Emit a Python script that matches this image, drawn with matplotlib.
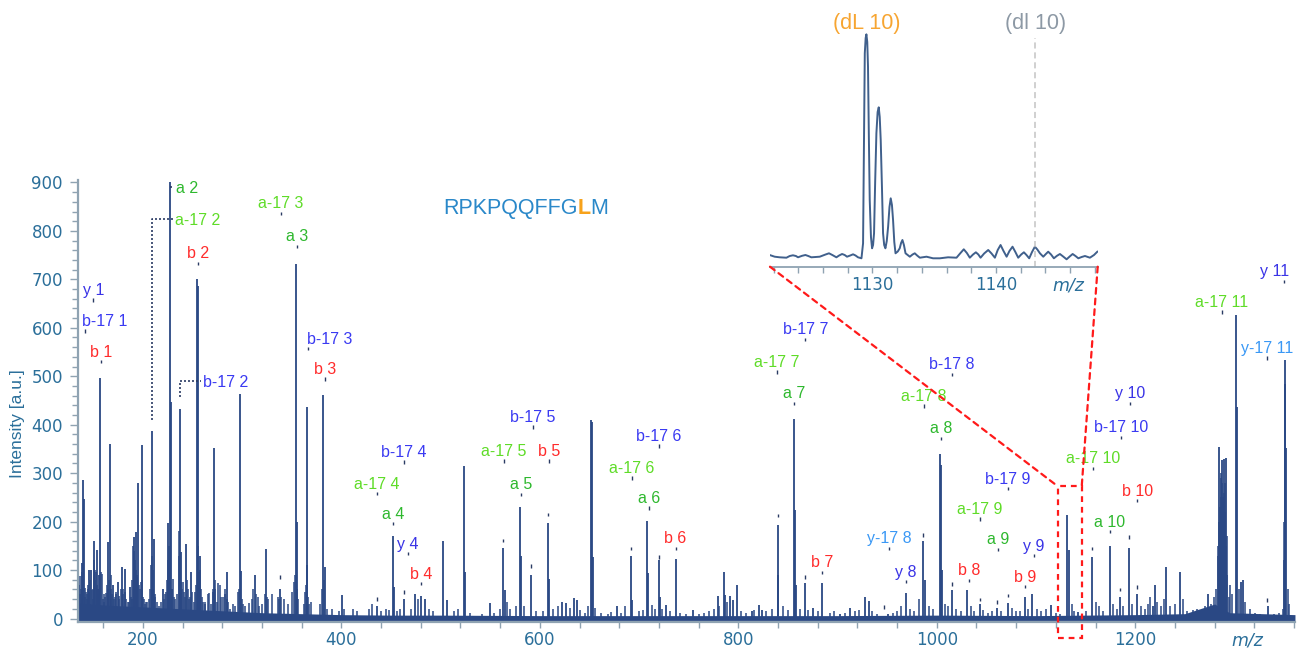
import matplotlib.pyplot as plt
from matplotlib.patches import ConnectionPatch, Rectangle

# ---- spectrum peaks (m/z, intensity a.u.) ----
peak_mz = [139.0, 139.9, 140.8, 145.6, 147.5, 150.9, 153.3, 155.7, 157.0, 164.4,
           166.8, 169.5, 174.5, 178.8, 181.5, 186.9, 191.2, 192.6, 195.0, 198.7,
           209.1, 211.4, 220.5, 225.5, 227.2, 227.9, 237.3, 238.0, 243.6, 248.4,
           254.1, 255.0, 257.4, 271.8, 284.3, 297.7, 298.7, 312.8, 323.6, 338.0,
           353.9, 354.9, 364.9, 365.6, 381.7, 383.3, 400.2, 435.5, 452.2, 453.2,
           463.3, 474.1, 479.8, 484.1, 502.0, 506.6, 523.7, 524.4, 549.6, 563.0,
           564.4, 579.9, 580.5, 590.9, 608.4, 609.1, 621.9, 625.9, 634.3, 637.0,
           651.1, 652.4, 653.1, 677.3, 691.7, 693.0, 708.1, 709.1, 719.9, 720.9,
           727.6, 736.7, 754.5, 779.7, 785.4, 786.4, 792.1, 794.8, 798.8, 813.3,
           820.7, 824.1, 839.5, 840.1, 856.2, 857.6, 858.6, 867.0, 875.4, 884.8,
           902.3, 913.0, 927.5, 931.8, 951.0, 968.8, 986.2, 987.9, 1003.0, 1004.4,
           1005.4, 1015.1, 1030.9, 1043.3, 1061.1, 1071.9, 1088.7, 1096.4, 1115.6, 1131.7,
           1133.1, 1142.5, 1156.8, 1174.3, 1185.0, 1193.7, 1202.2, 1217.9, 1219.6, 1231.4,
           1245.5, 1273.3, 1284.4, 1287.8, 1289.2, 1291.2, 1302.0, 1302.6, 1307.0, 1308.6,
           1333.8, 1350.6, 1351.3, 1352.3]
peak_int = [115, 285, 247, 100, 100, 161, 142, 89, 497, 158,
            361, 69, 75, 106, 103, 65, 169, 178, 280, 358,
            388, 165, 60, 197, 900, 446, 432, 137, 153, 95,
            700, 686, 130, 352, 96, 463, 98, 89, 144, 60,
            732, 199, 437, 110, 462, 106, 49, 25, 171, 65,
            40, 51, 46, 41, 159, 39, 314, 97, 32, 145,
            58, 231, 130, 90, 197, 82, 34, 31, 42, 38,
            410, 405, 127, 25, 130, 38, 201, 94, 120, 45,
            27, 122, 17, 46, 97, 49, 46, 38, 70, 15,
            27, 18, 194, 90, 412, 223, 69, 73, 21, 73,
            10, 21, 45, 36, 10, 53, 161, 80, 340, 316,
            100, 58, 58, 30, 22, 31, 45, 51, 27, 213,
            141, 14, 127, 149, 45, 146, 51, 25, 70, 106,
            97, 50, 353, 327, 329, 331, 627, 437, 75, 80,
            25, 534, 485, 351]

# small peaks / grass between the main ones
grass_mz = [135.5, 136.0, 136.5, 137.0, 137.5, 138.5, 141.5, 142.0, 142.5, 143.5,
            144.0, 144.4, 145.0, 146.0, 146.5, 147.0, 148.4, 149.2, 149.7, 150.3,
            151.2, 151.8, 152.2, 153.8, 154.2, 154.8, 156.0, 157.6, 158.4, 159.5,
            160.3, 161.0, 162.0, 162.5, 163.5, 165.0, 165.6, 167.5, 168.0, 168.5,
            170.8, 171.5, 172.5, 173.3, 175.5, 176.3, 177.5, 179.5, 180.3, 182.2,
            183.0, 184.5, 185.5, 187.8, 188.5, 189.2, 190.0, 190.6, 191.8, 193.0,
            193.8, 194.3, 196.0, 196.5, 197.5, 199.5, 200.3, 201.5, 202.5, 203.5,
            204.5, 206.0, 207.5, 208.3, 208.8, 209.7, 210.3, 212.0, 212.5, 214.0,
            216.5, 218.5, 221.5, 222.5, 223.2, 224.0, 225.0, 226.0, 226.5, 228.8,
            229.5, 230.5, 231.5, 232.5, 234.5, 236.0, 236.7, 238.8, 239.0, 240.5,
            241.0, 242.5, 244.3, 245.0, 246.5, 247.5, 249.5, 251.0, 252.8, 253.0,
            255.7, 256.0, 257.0, 258.5, 259.0, 260.0, 262.0, 263.0, 265.5, 266.5,
            268.5, 270.3, 271.0, 272.5, 273.0, 274.5, 275.9, 277.5, 278.5, 281.0,
            282.5, 283.0, 285.0, 286.0, 288.0, 291.0, 293.0, 296.0, 297.0, 299.5,
            300.5, 302.5, 307.0, 310.0, 311.0, 313.5, 315.5, 317.0, 320.0, 322.5,
            324.5, 326.5, 330.5, 336.0, 337.0, 339.0, 342.0, 346.0, 350.0, 352.0,
            353.0, 355.5, 356.5, 362.0, 363.5, 364.0, 366.5, 367.5, 369.5, 378.0,
            380.8, 382.5, 385.5, 391.0, 397.5, 402.5,
            412.0, 416.0, 428.0, 431.0, 440.0, 445.0, 448.0, 456.0, 459.5, 470.0,
            477.0, 488.0, 492.0, 513.0, 517.0, 530.0, 542.0, 554.0, 560.0, 567.0,
            570.0, 576.0, 584.0, 596.0, 603.0, 613.0, 618.0, 630.0, 640.0, 645.0,
            648.0, 656.0, 662.0, 669.0, 672.0, 682.0, 686.0, 700.0, 704.0, 713.0,
            716.0, 723.0, 731.0, 741.0, 747.0, 760.0, 765.0, 770.0, 775.0, 781.0,
            789.0, 803.0, 808.0, 816.0, 828.0, 834.0, 845.0, 850.0, 862.0, 870.0,
            880.0, 892.0, 896.0, 908.0, 918.0, 922.0, 935.0, 940.0, 956.0, 960.0,
            964.0, 973.0, 977.0, 982.0, 992.0, 996.0, 1008.0, 1011.0, 1019.0, 1024.0,
            1035.0, 1038.0, 1047.0, 1052.0, 1056.0, 1065.0, 1076.0, 1080.0, 1084.0, 1092.0,
            1101.0, 1105.0, 1110.0, 1120.0, 1124.0, 1136.0, 1138.0, 1150.0, 1160.0, 1163.0,
            1168.0, 1178.0, 1182.0, 1188.0, 1197.0, 1206.0, 1210.0, 1213.0, 1215.0, 1222.0,
            1226.0, 1229.0, 1235.0, 1240.0, 1248.0, 1252.0, 1258.0, 1262.0, 1266.0, 1270.0,
            1276.0, 1279.0, 1281.0, 1283.0, 1283.6, 1284.9, 1285.2, 1285.6, 1286.0, 1286.4,
            1286.8, 1287.3, 1288.0, 1288.5, 1288.9, 1289.6, 1290.0, 1290.6, 1291.6, 1292.0,
            1293.0, 1294.5, 1296.0, 1298.0, 1304.5, 1311.0, 1316.0, 1321.0, 1326.0, 1340.0,
            1345.0, 1348.5, 1349.8, 1350.2, 1353.5, 1355.0]
grass_int = [40, 70, 88, 50, 60, 95, 62, 45, 55, 40,
             50, 60, 70, 55, 30, 80, 58, 40, 60, 120,
             100, 80, 95, 70, 50, 60, 60, 95, 92, 40,
             35, 50, 45, 53, 70, 60, 80, 90, 60, 50,
             40, 45, 50, 55, 40, 46, 60, 60, 50, 55,
             40, 35, 35, 45, 40, 80, 150, 140, 120, 100,
             90, 85, 70, 60, 75, 80, 45, 40, 30, 35,
             35, 40, 60, 110, 130, 100, 60, 50, 45, 35,
             25, 35, 40, 50, 55, 80, 120, 120, 150, 60,
             60, 81, 45, 40, 50, 130, 180, 75, 60, 75,
             55, 45, 80, 60, 40, 45, 55, 35, 55, 70,
             150, 95, 100, 60, 45, 35, 30, 35, 50, 53,
             30, 55, 60, 80, 60, 35, 74, 70, 45, 45,
             60, 50, 40, 35, 20, 30, 25, 55, 60, 40,
             30, 25, 32, 40, 60, 50, 45, 25, 30, 50,
             45, 40, 50, 45, 40, 45, 40, 30, 55, 75,
             90, 60, 40, 30, 55, 70, 45, 30, 35, 30,
             60, 80, 20, 20, 15, 20,
             20, 15, 20, 30, 15, 20, 18, 15, 20, 20,
             40, 20, 15, 15, 20, 12, 10, 12, 20, 35,
             20, 25, 25, 15, 15, 20, 25, 22, 18, 12,
             25, 22, 12, 10, 14, 12, 25, 15, 18, 28,
             20, 20, 15, 12, 10, 10, 12, 15, 20, 25,
             35, 15, 12, 18, 15, 20, 25, 18, 20, 18,
             15, 12, 15, 12, 15, 18, 15, 10, 12, 15,
             25, 20, 15, 40, 25, 20, 30, 25, 20, 15,
             25, 15, 18, 12, 15, 15, 22, 15, 15, 20,
             20, 15, 20, 12, 10, 30, 15, 15, 35, 25,
             15, 30, 20, 25, 30, 25, 20, 30, 45, 35,
             25, 40, 25, 30, 40, 15, 18, 20, 15, 25,
             30, 45, 60, 130, 150, 200, 180, 230, 250, 290,
             300, 280, 240, 250, 200, 260, 220, 280, 150, 170,
             90, 45, 70, 50, 60, 35, 20, 12, 10, 10,
             12, 20, 120, 200, 60, 30]

# baseline noise band
noise_mz = [134.5, 160, 200, 240, 280, 320, 360, 400, 450, 500, 600, 700,
            800, 900, 1000, 1100, 1150, 1200, 1250, 1280, 1295, 1361]
noise_hi = [32, 28, 24, 20, 16, 12, 10, 8, 7, 7, 6, 6, 6, 6, 7, 6, 7, 8, 10, 30, 12, 8]
noise_lo = [-6, -6, -6, -5, -5, -5, -5, -4, -4, -4, -4, -4, -4, -4, -4, -4, -4, -4,
            -5, -5, -5, -5]

# fragment ion annotations: label, m/z of the tick, height of the tick
ann_labels = ["y 1", "b-17 1", "b 1", "b 2", "a-17 3", "a 3", "b-17 3", "b 3",
              "b-17 4", "a-17 4", "a 4", "y 4", "b 4",
              "b-17 5", "a-17 5", "b 5", "a 5",
              "b-17 6", "a-17 6", "a 6", "b 6",
              "b-17 7", "a-17 7", "a 7", "b 7",
              "b-17 8", "a-17 8", "a 8", "y-17 8", "y 8", "b 8",
              "b-17 9", "a-17 9", "a 9", "y 9", "b 9",
              "y 10", "b-17 10", "a-17 10", "b 10", "a 10",
              "y 11", "a-17 11", "y-17 11"]
ann_mz = [149.9, 141.6, 157.7, 255.1, 338.7, 354.9, 366.6, 383.4,
          463.0, 435.5, 452.2, 467.3, 480.1,
          592.6, 564.0, 609.1, 580.9,
          719.9, 692.4, 709.8, 736.7,
          867.7, 839.1, 856.2, 884.8,
          1015.4, 986.9, 1004.0, 951.9, 968.8, 1032.6,
          1071.8, 1043.3, 1061.8, 1098.0, 1088.7,
          1194.5, 1186.1, 1157.5, 1202.2, 1174.3,
          1350.0, 1287.5, 1333.2]
ann_level = [657, 593, 530, 733, 836, 768, 557, 494,
             323, 258, 196, 134, 72,
             395, 325, 325, 256,
             356, 290, 228, 145,
             576, 509, 444, 95,
             504, 439, 372, 145, 76, 79,
             268, 205, 143, 130, 66,
             444, 374, 310, 243, 179,
             696, 633, 538]
label_shift_px = {"b-17 1": 20, "b-17 3": 21, "y 11": -9}

# labels moved aside with a leader line
lead_labels = ["a 2", "a-17 2", "b-17 2"]
lead_peak_mz = [227.2, 209.1, 237.3]
lead_from = [891, 409, 457]
lead_level = [891, 824, 490]
lead_text_mz = [231.5, 230.2, 258.5]

# picked peaks with a marker but no label
pick_mz = [338.0, 435.5, 463.3, 563.0, 591.0, 608.4, 691.7, 719.9, 839.5, 867.0,
           947.0, 986.2, 1015.1, 1043.3, 1061.1, 1071.9, 1156.8, 1185.0, 1193.7,
           1202.2, 1333.2]
pick_level = [86, 40, 55, 161, 108, 215, 144, 127, 213, 86,
              24, 172, 71, 39, 34, 47, 144, 60, 168, 65, 38]

# zoomed region around the (dL 10) ion
inset_mz = [1121.67, 1122.08, 1122.48, 1123.03, 1123.30, 1123.56, 1123.80, 1123.97,
            1124.30, 1124.57, 1124.80, 1125.05, 1125.73, 1126.20, 1126.48, 1126.75,
            1127.08, 1127.30, 1127.54, 1127.75, 1127.94, 1128.20, 1128.43, 1128.63,
            1128.83, 1129.11, 1129.24, 1129.31, 1129.38, 1129.45, 1129.51, 1129.58,
            1129.64, 1129.71, 1129.78, 1129.88, 1129.97, 1130.05, 1130.13, 1130.22,
            1130.32, 1130.42, 1130.51, 1130.59, 1130.67, 1130.77, 1130.86, 1130.95,
            1131.05, 1131.16, 1131.27, 1131.38, 1131.48, 1131.58, 1131.67, 1131.77,
            1131.87, 1132.05, 1132.21, 1132.32, 1132.43, 1132.55, 1132.68, 1133.03,
            1133.25, 1133.43, 1133.62, 1133.84, 1134.38, 1134.91, 1135.46, 1136.13,
            1136.81, 1137.10, 1137.40, 1137.65, 1137.89, 1138.15, 1138.38, 1138.58,
            1138.76, 1139.05, 1139.38, 1139.65, 1139.92, 1140.15, 1140.38, 1140.62,
            1140.87, 1141.10, 1141.35, 1141.58, 1141.81, 1142.05, 1142.27, 1142.48,
            1142.70, 1142.93, 1143.16, 1143.36, 1143.57, 1143.84, 1144.05, 1144.24,
            1144.47, 1144.70, 1144.95, 1145.19, 1145.45, 1145.73, 1145.98, 1146.22,
            1146.45, 1146.68, 1146.95, 1147.22, 1147.62, 1147.95, 1148.22]
inset_int = [2, 0.3, -0.3, -0.7, 1.0, 1.7, 1.0, -0.3,
             1.2, 2, 1.0, -0.3, 0.3, 2.5, 3.7, 2.0,
             -0.3, 1.5, 3, 2.0, 0.3, 1.5, 2.7, 1.5,
             -0.3, -1.3, 13.7, 110, 203.7, 219, 222.7, 215,
             190.3, 120, 57, 20, 8.7, 12, 23.7, 75,
             123.7, 145, 149.7, 140, 117, 70, 23.7, 12,
             8.7, 16, 30.3, 50, 58.7, 52, 37, 15,
             3.7, 5.5, 8.7, 14, 17, 12, 3.7, 0.3,
             2.5, 3.7, 1.5, -0.7, 0.3, -1.3, -1.3, -0.3,
             -0.7, 3.5, 7.7, 4.0, -0.7, 2.5, 4.7, 2.5,
             -0.7, 3.5, 7, 3.5, -0.7, 7, 12, 6,
             0.3, 6, 10.3, 5, -0.7, 2.5, 4.7, 2,
             -1.3, 5, 10.3, 7.5, 3.7, 0.3, 3, 5.3,
             2.5, -1.3, 1.2, 3, 0.5, -2.3, 0.5, 3,
             1.0, -1.3, 0, 1, -0.7, 2, 5.3]
dL_mz = 1129.5
dI_mz = 1143.2
zoom_mz = [1121.9, 1146.1]
zoom_int = [-40, 273]

sequence_parts = ["RPKPQQFFG", "L", "M"]

# ---- styles ----
SPEC = "#2a4884"
AXIS = "#8fa3b2"
TICKTXT = "#2b6f9a"
MARK = "#2a3b63"
ion_colors = {"a": "#2eb82e", "a-17": "#5fdc28", "b": "#ff2b2b",
              "b-17": "#3a3af2", "y": "#3a34e6", "y-17": "#3a98f5"}
LABEL_FONT = dict(family=["Liberation Sans", "DejaVu Sans"], fontsize=11.5)
PX = 0.72  # points per pixel at dpi 100


def ion_color(label):
    return ion_colors[label.rsplit(" ", 1)[0]]


fig = plt.figure(figsize=(13.02, 6.52), dpi=100)
ax = fig.add_axes([0.0599, 0.0460, 0.9347, 0.6779])

ax.fill_between(noise_mz, noise_lo, noise_hi, color=SPEC, lw=0, zorder=2)
ax.vlines(grass_mz, 0, grass_int, color=SPEC, lw=1.1, zorder=2)
ax.vlines(peak_mz, 0, peak_int, color=SPEC, lw=1.3, zorder=3)

ax.set_xlim(134.5, 1361)
ax.set_ylim(-7.2, 905)

for side in ["top", "right"]:
    ax.spines[side].set_visible(False)
for side in ["left", "bottom"]:
    ax.spines[side].set_color(AXIS)
    ax.spines[side].set_linewidth(1.6)

ax.set_yticks(range(0, 901, 100))
ax.set_yticks(range(0, 901, 20), minor=True)
ax.set_xticks(range(200, 1201, 200))
ax.set_xticks(range(160, 1361, 40), minor=True)
ax.tick_params(axis="y", which="major", length=5.8, width=1.0, color=AXIS,
               labelcolor=TICKTXT, labelsize=12, pad=5)
ax.tick_params(axis="y", which="minor", length=4, width=1.0, color=AXIS)
ax.tick_params(axis="x", which="both", length=4.3, width=1.0, color=AXIS,
               labelcolor=TICKTXT, labelsize=12, pad=2.5)

fig.text(18 / 1302, 1 - 424 / 652, "Intensity [a.u.]", rotation=90, ha="center",
         va="center", fontsize=12.5, color=TICKTXT,
         family=["Liberation Sans", "DejaVu Sans"])
ax.annotate("m/z", xy=(1313.4, 0), xycoords=("data", "axes fraction"),
            xytext=(0, -13), textcoords="offset points", ha="center", va="center",
            fontsize=12.5, style="italic", color=TICKTXT)

# ion labels with their tick marks
ax.vlines(ann_mz, [v - 3.5 for v in ann_level], [v + 3.5 for v in ann_level],
          color=MARK, lw=1.0, zorder=4)
ax.vlines(pick_mz, [v - 3.5 for v in pick_level], [v + 3.5 for v in pick_level],
          color=MARK, lw=1.0, zorder=4)
for lab, mz, lev in zip(ann_labels, ann_mz, ann_level):
    dx = label_shift_px.get(lab, 0) * PX
    ax.annotate(lab, xy=(mz, lev), xytext=(dx, 3.6), textcoords="offset points",
                ha="center", va="baseline", color=ion_color(lab), zorder=5,
                **LABEL_FONT)

for lab, pmz, y0, lev, tmz in zip(lead_labels, lead_peak_mz, lead_from, lead_level,
                                  lead_text_mz):
    ax.plot([pmz, pmz, tmz], [y0, lev, lev], color=MARK, lw=1.2,
            ls=(0, (1.2, 1.2)), zorder=4)
    ax.annotate(lab, xy=(tmz, lev), xytext=(1.5, 0), textcoords="offset points",
                ha="left", va="center_baseline", color=ion_color(lab), zorder=5,
                **LABEL_FONT)

# peptide sequence with the L highlighted
seq_font = dict(family=["Liberation Sans", "DejaVu Sans"], fontsize=15.5)
t1 = ax.text(502.3, 835.5, sequence_parts[0], color="#2a88c9", ha="left",
             va="baseline", **seq_font)
t2 = ax.annotate(sequence_parts[1], xy=(1, 0), xycoords=t1, ha="left", va="bottom",
                 color="#f7a21b", fontweight="bold", **seq_font)
ax.annotate(sequence_parts[2], xy=(1, 0), xycoords=t2, ha="left", va="bottom",
            color="#2a88c9", **seq_font)

# inset
ax_in = fig.add_axes([770 / 1302, 1 - 266.7 / 652, 327.7 / 1302, 234.7 / 652])
ax_in.plot(inset_mz, inset_int, color="#40608c", lw=1.4)
ax_in.set_xlim(1121.7, 1148.25)
ax_in.set_ylim(-9.7, 225)
ax_in.patch.set_alpha(0)
for side in ["top", "right", "left"]:
    ax_in.spines[side].set_visible(False)
ax_in.spines["bottom"].set_color(AXIS)
ax_in.spines["bottom"].set_linewidth(1.3)
ax_in.set_yticks([])
ax_in.set_xticks([1130, 1140])
ax_in.set_xticks(range(1122, 1149, 2), minor=True)
ax_in.tick_params(axis="x", which="both", length=4.3, width=1.0, color=AXIS,
                  labelcolor=TICKTXT, labelsize=12, pad=2.5)
ax_in.vlines(dI_mz, -9.7, 219, color="#c4c4c4", lw=1.1, ls=(0, (4, 2.5)))
ax_in.text(dL_mz, 234, "(dL 10)", ha="center", va="center", color="#f7a531",
           clip_on=False, **seq_font)
ax_in.text(dI_mz, 234, "(dl 10)", ha="center", va="center", color="#8d99a5",
           clip_on=False, **seq_font)
ax_in.annotate("m/z", xy=(1145.9, 0), xycoords=("data", "axes fraction"),
               xytext=(0, -13.2), textcoords="offset points", ha="center",
               va="center", fontsize=12.5, style="italic", color=TICKTXT)

# red dashed zoom box and connectors
red_ls = (0, (2.6, 2.2))
ax.add_patch(Rectangle((zoom_mz[0], zoom_int[0]), zoom_mz[1] - zoom_mz[0],
                       zoom_int[1] - zoom_int[0], fill=False, ec="#ff1a1a",
                       lw=1.6, ls=red_ls, clip_on=False, zorder=6))
for xa, xb in [(0, zoom_mz[0]), (1, zoom_mz[1])]:
    con = ConnectionPatch(xyA=(xa, 0), coordsA=ax_in.transAxes,
                          xyB=(xb, zoom_int[1]), coordsB=ax.transData,
                          color="#ff1a1a", lw=1.6, ls=red_ls, zorder=6)
    fig.add_artist(con)

fig.savefig("out.png", dpi=100)
